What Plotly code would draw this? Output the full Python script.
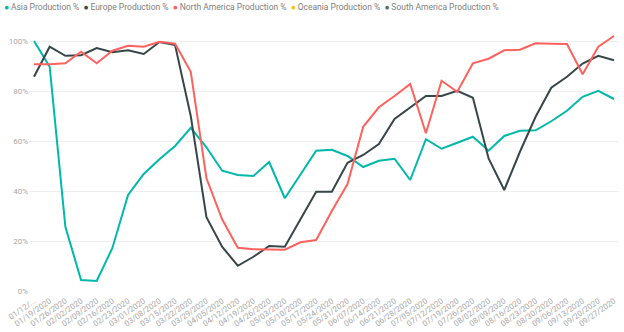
import plotly.graph_objects as go

dates = ["01/12/2020", "01/19/2020", "01/26/2020", "02/02/2020", "02/09/2020", "02/16/2020",
         "02/23/2020", "03/01/2020", "03/08/2020", "03/15/2020", "03/22/2020", "03/29/2020",
         "04/05/2020", "04/12/2020", "04/19/2020", "04/26/2020", "05/03/2020", "05/10/2020",
         "05/17/2020", "05/24/2020", "05/31/2020", "06/07/2020", "06/14/2020", "06/21/2020",
         "06/28/2020", "07/05/2020", "07/12/2020", "07/19/2020", "07/26/2020", "08/02/2020",
         "08/09/2020", "08/16/2020", "08/23/2020", "08/30/2020", "09/06/2020", "09/13/2020",
         "09/20/2020", "09/27/2020"]
tick_labels = ["01/12/..."] + dates[1:]
y_ticks = [0, 20, 40, 60, 80, 100]
y_tick_labels = ["0%", "20%", "40%", "60%", "80%", "100%"]

asia = [100, 89.7, 25.7, 4.4, 4.0, 17.2, 38.4, 46.8, 52.7, 58.0, 65.3, 57.5,
        48.1, 46.4, 46.0, 51.6, 37.1, 46.8, 56.1, 56.5, 54.0, 49.6, 52.1, 52.9,
        44.4, 60.7, 56.9, 59.3, 61.7, 56.1, 62.0, 64.1, 64.3, 67.9, 72.1, 77.7,
        80.1, 76.8]
europe = [85.7, 97.7, 94.1, 94.3, 97.2, 95.5, 96.3, 94.8, 99.6, 98.4, 70.0, 29.5,
          17.7, 10.1, 13.7, 18.0, 17.7, 28.8, 39.7, 39.7, 51.3, 54.4, 58.8, 68.8,
          73.5, 78.0, 78.0, 80.1, 77.3, 53.0, 40.4, 55.7, 69.7, 81.3, 85.7, 91.0,
          94.1, 92.3]
north_america = [90.7, 90.7, 91.1, 95.7, 91.1, 96.1, 98.1, 97.7, 99.7, 98.9, 87.7, 45.1,
                 28.7, 17.3, 16.7, 16.5, 16.5, 19.5, 20.4, 32.0, 42.8, 65.7, 73.5, 78.0,
                 82.8, 63.1, 84.1, 79.7, 91.1, 92.9, 96.3, 96.5, 99.1, 98.9, 98.8, 86.7,
                 97.7, 102.0]
oceania = [None] * len(dates)
south_america = [None] * len(dates)

series = [
    ("Asia Production %", asia, "#01B8AA"),
    ("Europe Production %", europe, "#374649"),
    ("North America Production %", north_america, "#FD625E"),
    ("Oceania Production %", oceania, "#F2C80F"),
    ("South America Production %", south_america, "#5F6B6D"),
]

fig = go.Figure()
for name, vals, color in series:
    fig.add_trace(go.Scatter(x=dates, y=vals, name=name, mode="lines",
                             line=dict(color=color, width=2), showlegend=False))

legend_text = "&nbsp;&nbsp;".join(
    f"<span style='color:{c}'>●</span>&#8201;<span style='color:#808080'>{n}</span>"
    for n, _, c in series
)
fig.add_annotation(text=legend_text, xref="paper", yref="paper", x=0, y=1,
                   xanchor="left", yanchor="bottom", showarrow=False,
                   font=dict(family="Roboto", size=8.5, color="#808080"),
                   xshift=-27, yshift=16)

fig.update_layout(
    width=624, height=332,
    margin=dict(l=29, r=5, t=30, b=41),
    plot_bgcolor="white", paper_bgcolor="white",
    font=dict(family="Roboto", color="#999"),
    xaxis=dict(type="category", range=[-0.32, 37.32], tickmode="array",
               tickvals=dates, ticktext=tick_labels, tickangle=-35,
               tickfont=dict(size=8, color="#a8a8a8"), showgrid=False,
               showline=False, ticks="", zeroline=False, ticklabelstandoff=3),
    yaxis=dict(range=[0, 104.4], tickmode="array", tickvals=y_ticks, ticktext=y_tick_labels,
               tickfont=dict(size=8, color="#a8a8a8"), showgrid=True,
               gridcolor="#efefef", gridwidth=1, zeroline=False, showline=False,
               ticks=""),
)

fig.write_html("out.html")
